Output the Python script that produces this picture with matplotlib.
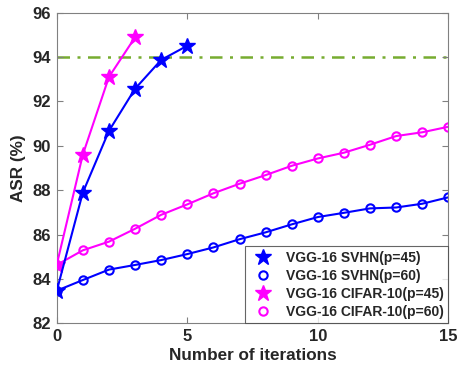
import matplotlib
matplotlib.use("Agg")
import matplotlib.pyplot as plt
from matplotlib.lines import Line2D

plt.rcParams['font.family'] = ['Liberation Sans', 'DejaVu Sans']
plt.rcParams['font.weight'] = 'bold'

x_svhn45 = [0, 1, 2, 3, 4, 5]
svhn45 = [83.45, 87.89, 90.67, 92.57, 93.87, 94.51]
x_cifar45 = [0, 1, 2, 3]
cifar45 = [84.63, 89.6, 93.1, 94.89]
x_60 = list(range(16))
svhn60 = [83.47, 83.95, 84.42, 84.63, 84.85, 85.12, 85.42, 85.79, 86.1, 86.46,
          86.79, 86.98, 87.18, 87.22, 87.39, 87.68]
cifar60 = [84.63, 85.29, 85.68, 86.26, 86.89, 87.36, 87.86, 88.29, 88.68, 89.10,
           89.43, 89.69, 90.05, 90.44, 90.61, 90.86]
threshold = 94.0
labels = ['VGG-16 SVHN(p=45)', 'VGG-16 SVHN(p=60)',
          'VGG-16 CIFAR-10(p=45)', 'VGG-16 CIFAR-10(p=60)']

fig = plt.figure(figsize=(4.59, 3.73), dpi=100)
ax = fig.add_axes([0.1235, 0.1332, 0.8535, 0.8328])

blue = '#0000FF'
mag = '#FF00FF'
green = '#77AC30'

ax.axhline(threshold, color=green, lw=1.8, ls=(0, (5, 3, 1.2, 3)), zorder=1)
ax.plot(x_60, cifar60, color=mag, lw=1.5, marker='o', ms=6, mfc='none', mew=1.5, zorder=2)
ax.plot(x_60, svhn60, color=blue, lw=1.5, marker='o', ms=6, mfc='none', mew=1.5, zorder=2)
ax.plot(x_cifar45, cifar45, color=mag, lw=1.5, marker='*', ms=12, zorder=3)
ax.plot(x_svhn45, svhn45, color=blue, lw=1.5, marker='*', ms=12, zorder=3)

ax.set_xlim(0, 15)
ax.set_ylim(82, 96)
ax.set_xticks([0, 5, 10, 15])
ax.set_yticks(range(82, 97, 2))
ax.tick_params(direction='in', length=4, width=0.8, top=True, right=True,
               labelsize=12, labelcolor='#262626', color='#808080', pad=4)
for t in ax.get_xticklabels() + ax.get_yticklabels():
    t.set_fontweight('bold')
for s in ax.spines.values():
    s.set_color('#808080')
    s.set_linewidth(0.8)

ax.set_xlabel('Number of iterations', fontsize=12.3, fontweight='bold', labelpad=3,
              color='#262626')
ax.set_ylabel('ASR (%)', fontsize=12.3, fontweight='bold', labelpad=5, color='#262626')

handles = [
    Line2D([], [], color=blue, marker='*', ms=12, ls='none'),
    Line2D([], [], color=blue, marker='o', ms=6, mfc='none', mew=1.5, ls='none'),
    Line2D([], [], color=mag, marker='*', ms=12, ls='none'),
    Line2D([], [], color=mag, marker='o', ms=6, mfc='none', mew=1.5, ls='none'),
]
leg = ax.legend(handles, labels, loc='lower right', bbox_to_anchor=(1.0, 0.0),
                prop={'weight': 'bold', 'size': 10}, frameon=True, fancybox=False,
                borderaxespad=0, handletextpad=0.7, labelspacing=0.3,
                borderpad=0.3, handlelength=2.0)
leg.get_frame().set_edgecolor('#404040')
leg.get_frame().set_linewidth(0.8)
for t in leg.get_texts():
    t.set_color('#262626')

fig.savefig('out.png', dpi=100)
